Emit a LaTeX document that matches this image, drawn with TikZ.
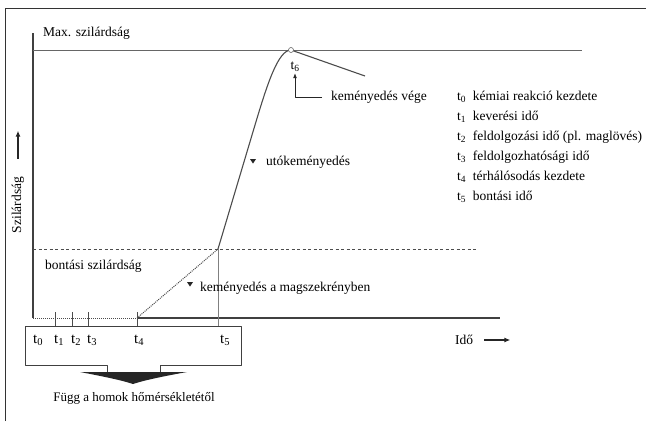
\documentclass[tikz,border=0pt]{standalone}
\usepackage{fontspec}
\setmainfont{Liberation Serif}
\usetikzlibrary{arrows.meta}
\tikzset{
  lbl/.style={font=\fontsize{13.5}{15}\selectfont, text=black, inner sep=1pt},
  axis/.style={black!75, line width=1.3pt},
  tick/.style={black!70, line width=0.8pt},
  marker/.style={fill=black!85},
  arr/.style={black!85, line width=1.2pt, -{Latex[length=6pt,width=5pt]}}
}
\newcommand\tl[1]{t\textsubscript{#1}}
\begin{document}
\begin{tikzpicture}[x=1pt, y=-1pt, line join=round]
\useasboundingbox (0,0) rectangle (646,421);
\draw[black!80, line width=1pt] (5,421) -- (5,8) -- (646,8);
\coordinate (o) at (33,318);
\coordinate (top) at (33,33);
\coordinate (t4) at (137,318);
\coordinate (t5) at (218,249);
\coordinate (peak) at (291,50);
\coordinate (xend) at (500,318);
% axes
\draw[axis] (top) -- (o);
\draw[black!75, line width=1.1pt] (t4) -- (xend);
\draw[black!70, densely dotted, line width=1pt] (o) -- (t4);
\draw[black!60, line width=0.9pt] (33,50) -- (582,50);
\node[lbl, anchor=west] (maxsz) at (42,33) {Max. szilárdság};
\draw[black!70, dashed, dash pattern=on 3pt off 2.5pt, line width=0.8pt] (33,249) -- (478,249);
\node[lbl, anchor=west] (bontsz) at (44,266) {bontási szilárdság};
% curve
\draw[black!70, densely dotted, line width=1pt] (t4) -- (t5);
\draw[black!70, line width=1.1pt] (t5) -- (255,125) .. controls (267,85) and (278,50) .. (peak) -- (365,76);
\draw[black!60, fill=white, line width=0.6pt] (peak) circle (2.5);
\draw[black!50, line width=0.6pt] (t5) -- (218,326);
\foreach \x in {55,72,88,137} \draw[tick] (\x,312) -- (\x,326);
% box
\draw[black!75, line width=0.9pt] (107,373) -- (107,365) -- (25,365) -- (25,326) -- (241,326) -- (241,365) -- (160,365) -- (160,373);
\fill[black!85] (80,372) -- (187,372) .. controls (165,376) and (145,380) .. (133,384) .. controls (121,380) and (101,376) .. (80,372) -- cycle;
\node[lbl, font=\fontsize{13}{15}\selectfont] (fugg) at (134,398) {Függ a homok hőmérsékletétől};
\foreach \n/\x in {0/32,1/53,2/70,3/86,4/133,5/219}
  \node[lbl, anchor=west, font=\fontsize{15}{17}\selectfont] (l\n) at (\x,340) {\tl{\n}};
% labels on the curve
\node[lbl] (t6) at (295,67) {\tl{6}};
\node[lbl, anchor=west] (vege) at (330,97) {keményedés vége};
\draw[black!85, line width=0.9pt, -{Latex[length=5pt,width=4pt]}] (vege.west) ++(-8,0) -| (t6.south);
\fill[marker] (253,161) +(-3,-2) -- +(3,-2) -- +(0,2.5) -- cycle;
\node[lbl, anchor=west] (uto) at (265,162) {utókeményedés};
\fill[marker] (190,284) +(-3,-2) -- +(3,-2) -- +(0,2.5) -- cycle;
\node[lbl, anchor=west] (mag) at (199,288) {keményedés a magszekrényben};
% legend
\foreach \n/\txt [count=\i from 0] in {0/kémiai reakció kezdete, 1/keverési idő, 2/feldolgozási idő (pl. maglövés), 3/feldolgozhatósági idő, 4/térhálósodás kezdete, 5/bontási idő}
  \node[lbl, anchor=west] (leg\n) at (456,97+20*\i) {\tl{\n}\enspace \txt};
% axis titles
\node[lbl, rotate=90] (szil) at (18,205) {Szilárdság};
\draw[arr] (szil.east) ++(0,-17) -- ++(0,-28);
\node[lbl, anchor=west] (ido) at (454,340) {Idő};
\draw[arr] (ido.east) ++(10,0) -- ++(26,0);
\end{tikzpicture}
\end{document}
